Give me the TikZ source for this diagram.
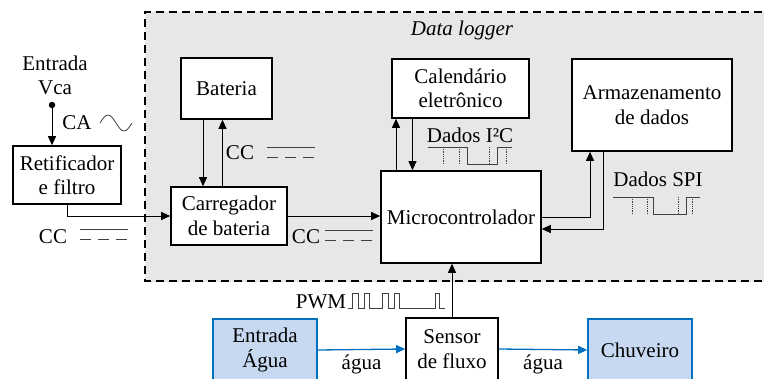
\documentclass[tikz,border=0pt]{standalone}
\usepackage{fontspec}
\setmainfont{Liberation Serif}
\usetikzlibrary{arrows.meta}

\definecolor{loggray}{RGB}{230,231,232}
\definecolor{aguafill}{RGB}{198,217,241}
\definecolor{agualine}{RGB}{0,112,192}

\begin{document}
\begin{tikzpicture}
	[x=1pt,y=-1pt,
	font=\fontsize{21}{24.5}\selectfont,
	bloco/.style={rectangle, draw, line width=1.6pt, fill=white, align=center, inner sep=0pt},
	azul/.style={bloco, draw=agualine, fill=aguafill},
	seta/.style={-{Triangle[length=9pt,width=8pt]}, line width=0.9pt},
	setaazul/.style={seta, color=agualine, line width=1.3pt},
	sinal/.style={line width=0.8pt, black!75}]
	\useasboundingbox (0,0) rectangle (764,378);
	
	% data logger area
	\draw[loggray, fill=loggray] (145,12) rectangle (775,281);
	\draw[line width=1.8pt, dash pattern=on 8pt off 5pt] (775,12) -- (145,12) -- (145,281) -- (775,281);
	\node (dl) at (462,30) {\itshape Data logger};
	
	\node[bloco, minimum width=91pt, minimum height=61pt] (bat) at (226.5,88.5) {Bateria};
	\node[bloco, minimum width=108pt, minimum height=58pt] (ret) at (67,175) {Retificador\\e filtro};
	\node[bloco, minimum width=116pt, minimum height=58pt] (carr) at (229,216) {Carregador\\de bateria};
	\node[bloco, minimum width=160pt, minimum height=92pt] (micro) at (461,217) {Microcontrolador};
	\node[bloco, minimum width=137pt, minimum height=59pt] (cal) at (460.5,88.5) {Calendário\\eletrônico};
	\node[bloco, minimum width=160pt, minimum height=92pt] (arm) at (652,105) {Armazenamento\\de dados};
	\node[bloco, minimum width=92pt, minimum height=62pt] (sens) at (452,349) {Sensor\\de fluxo};
	\node[azul, minimum width=104pt, minimum height=62pt] (ent) at (265,350) {Entrada\\Água};
	\node[azul, minimum width=104pt, minimum height=62pt] (chuv) at (640,350) {Chuveiro};
	
	% input
	\node[align=center] (vcatxt) at (55,75.5) {Entrada\\Vca};
	\node[circle, fill, inner sep=0pt, minimum size=6.5pt] (vca) at (52,105) {};
	\node (ca) at (77,123) {CA};
	\draw[sinal] (100,123) sin (108,115) cos (116,123) sin (124,131) cos (132,123);
	
	% connections
	\draw[seta] (vca) -- (vca |- ret.north);
	\draw[seta] (ret.south) |- (carr.west);
	\draw[seta] ([xshift=-23.5]bat.south) -- ([xshift=-23.5]bat.south |- carr.north);
	\draw[seta] ([xshift=-6.5]carr.north) -- ([xshift=-6.5]carr.north |- bat.south);
	\draw[seta] (carr.east) -- (micro.west |- carr.east);
	\draw[seta] ([xshift=-65]micro.north) -- ([xshift=-65]micro.north |- cal.south);
	\draw[seta] ([xshift=-48]cal.south) -- ([xshift=-48]cal.south |- micro.north);
	\draw[seta] (micro.east) -| ([xshift=-62]arm.south);
	\draw[seta] ([xshift=-49]arm.south) |- ([yshift=-12]micro.east);
	\draw[seta] (sens.north) -- (sens.north |- micro.south);
	\draw[setaazul] (ent.east) -- (sens.west) node[midway, below=1pt, black] (ag1) {água};
	\draw[setaazul] (sens.east) -- (chuv.west) node[midway, below=1pt, black] (ag2) {água};
	
	% signal labels
	\node (cc1) at (53,237) {CC};
	\node (cc2) at (240,153) {CC};
	\node (cc3) at (306,237) {CC};
	\node (i2c) at (470,135) {Dados I²C};
	\node (spi) at (658,179) {Dados SPI};
	\node (pwm) at (321,302) {PWM};
	
	\foreach \x/\y in {80/229, 267/147, 325/230}
	{
		\draw[sinal] (\x,\y) -- ++(48,0);
		\draw[sinal, dash pattern=on 11pt off 7pt] (\x,\y+10) -- ++(48,0);
	}
	
	\draw[sinal] (428,147) -- (467,147) -- (467,164) -- (497,164) -- (497,147) -- (512,147);
	\foreach \x in {443,459,489,506}
	\draw[sinal, densely dotted] (\x,147) -- (\x,164);
	
	\draw[sinal] (613,197) -- (653,197) -- (653,214) -- (686,214) -- (686,197) -- (700,197);
	\foreach \x in {632,647,678,692}
	\draw[sinal, densely dotted] (\x,197) -- (\x,214);
	
	\draw[sinal] (348,308) -- (352,308) -- (352,293) -- (358,293) -- (358,308) -- (364,308) -- (364,293) -- (369,293) -- (369,308)
	-- (382,308) -- (382,293) -- (388,293) -- (388,308) -- (394,308) -- (394,293) -- (399,293) -- (399,308)
	-- (435,308) -- (435,293) -- (439,293) -- (439,308) -- (445,308);
\end{tikzpicture}
\end{document}
